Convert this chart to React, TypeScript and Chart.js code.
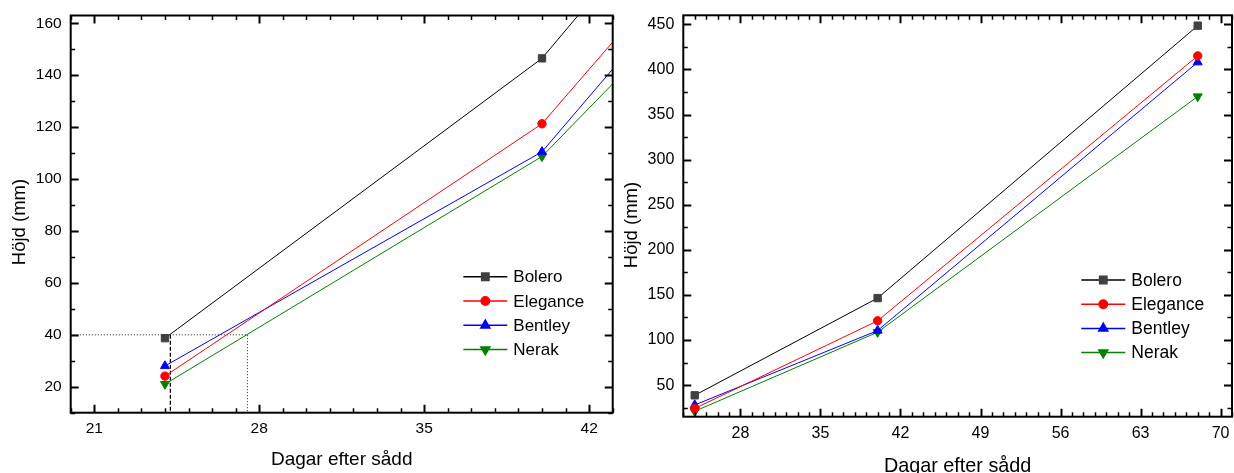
import React, { useEffect, useRef } from 'react';
import { Chart, registerables } from 'chart.js';
import { drawPoint } from 'chart.js/helpers';

Chart.register(...registerables);

// ---------- data ----------
const days = [24, 40, 68];
const seriesNames = ['Bolero', 'Elegance', 'Bentley', 'Nerak'];
const bolero = [38.7, 146.5, 448.5];
const elegance = [24.1, 121.3, 415];
const bentley = [28, 110.5, 408];
const nerak = [21, 108.7, 370];

const leftXTicks = [21, 28, 35, 42];
const leftYTicks = [20, 40, 60, 80, 100, 120, 140, 160];
const rightXTicks = [28, 35, 42, 49, 56, 63, 70];
const rightYTicks = [50, 100, 150, 200, 250, 300, 350, 400, 450];

// zoom-region guide drawn on the left panel
const zoomBoxX = [20, 20, 27.5, 27.5, 20];
const zoomBoxY = [10, 40, 40, 10, 10];
const guideX = [24.23, 24.23];
const guideY = [40, 10];

const xTitle = 'Dagar efter sådd';
const yTitle = 'Höjd (mm)';

// ---------- styles ----------
const FONT = '"Liberation Sans", Arial, sans-serif';
const lineColors = ['#000000', '#ff0000', '#0000ff', '#008000'];
const pointColors = ['#404040', '#ff0000', '#0000ff', '#008000'];
const pointStyles = ['rect', 'circle', 'triangle', 'triangle'];
const pointRotations = [0, 0, 0, 180];
const pointRadii = [5.2, 4.2, 5.2, 5.2];
const seriesValues = [bolero, elegance, bentley, nerak];

const framePlugin = {
  id: 'frame',
  afterDraw(chart: any) {
    const o = chart.options.plugins.frame;
    const { ctx, chartArea: a } = chart;
    const x = chart.scales.x;
    const y = chart.scales.y;
    ctx.save();
    // ticks (inward, all four sides)
    ctx.strokeStyle = '#000';
    const nx0 = Math.ceil(x.min / o.xMinor - 1e-9);
    for (let i = nx0; i * o.xMinor <= x.max + 1e-9; i++) {
      const v = i * o.xMinor;
      const major = o.xMajor.includes(v);
      const len = major ? 8 : 4.5;
      const px = Math.round(x.getPixelForValue(v)) + 0.5;
      ctx.lineWidth = major ? 2 : 1.5;
      ctx.beginPath();
      ctx.moveTo(px, a.bottom); ctx.lineTo(px, a.bottom - len);
      ctx.moveTo(px, a.top); ctx.lineTo(px, a.top + len);
      ctx.stroke();
    }
    const ny0 = Math.ceil(y.min / o.yMinor - 1e-9);
    for (let i = ny0; i * o.yMinor <= y.max + 1e-9; i++) {
      const v = i * o.yMinor;
      const major = o.yMajor.includes(v);
      const len = major ? 8 : 4.5;
      const py = Math.round(y.getPixelForValue(v)) + 0.5;
      ctx.lineWidth = major ? 2 : 1.5;
      ctx.beginPath();
      ctx.moveTo(a.left, py); ctx.lineTo(a.left + len, py);
      ctx.moveTo(a.right, py); ctx.lineTo(a.right - len, py);
      ctx.stroke();
    }
    // frame
    ctx.lineWidth = 2;
    ctx.strokeRect(a.left, a.top, a.right - a.left, a.bottom - a.top);

    // axis titles
    ctx.fillStyle = '#000';
    ctx.font = `${o.xTitleSize}px ${FONT}`;
    ctx.textAlign = 'center';
    ctx.textBaseline = 'alphabetic';
    ctx.fillText(xTitle, (a.left + a.right) / 2, o.xTitleBaseline);
    ctx.save();
    ctx.font = `${o.yTitleSize}px ${FONT}`;
    ctx.translate(o.yTitleX, o.yTitleY);
    ctx.rotate(-Math.PI / 2);
    ctx.textBaseline = 'middle';
    ctx.fillText(yTitle, 0, 0);
    ctx.restore();

    // legend
    const lx = a.left + o.legendX * (a.right - a.left);
    let ly = a.top + o.legendY * (a.bottom - a.top);
    ctx.font = `${o.legendSize}px ${FONT}`;
    ctx.textAlign = 'left';
    ctx.textBaseline = 'middle';
    chart.data.datasets.filter((d: any) => d.label).forEach((d: any) => {
      ctx.strokeStyle = d.borderColor;
      ctx.lineWidth = 1.5;
      ctx.beginPath();
      ctx.moveTo(lx, ly); ctx.lineTo(lx + 44, ly);
      ctx.stroke();
      ctx.fillStyle = d.pointBackgroundColor;
      ctx.strokeStyle = d.pointBorderColor;
      drawPoint(ctx, { pointStyle: d.pointStyle, rotation: d.pointRotation, radius: d.pointRadius, borderWidth: 1 }, lx + 22, ly);
      ctx.fillStyle = '#000';
      ctx.fillText(d.label, lx + 50, ly + 1);
      ly += o.legendStep;
    });
    ctx.restore();
  },
};

function seriesDatasets() {
  return seriesNames.map((name, i) => ({
    label: name,
    data: days.map((d, j) => ({ x: d, y: seriesValues[i][j] })),
    borderColor: lineColors[i],
    borderWidth: 1,
    pointBackgroundColor: pointColors[i],
    pointBorderColor: pointColors[i],
    pointBorderWidth: 1,
    pointStyle: pointStyles[i],
    pointRotation: pointRotations[i],
    pointRadius: pointRadii[i],
    tension: 0,
    order: i,
  }));
}

function makeConfig(p: any): any {
  const datasets: any[] = seriesDatasets();
  if (p.guides) {
    datasets.push({
      data: zoomBoxX.map((x, i) => ({ x, y: zoomBoxY[i] })),
      borderColor: '#222', borderWidth: 1, borderDash: [1, 2], pointRadius: 0, order: 20,
    });
    datasets.push({
      data: guideX.map((x, i) => ({ x, y: guideY[i] })),
      borderColor: '#000', borderWidth: 1.3, borderDash: [4, 2], pointRadius: 0, order: 21,
    });
  }
  return {
    type: 'line',
    data: { datasets },
    plugins: [framePlugin],
    options: {
      responsive: false,
      animation: false,
      layout: { autoPadding: false, padding: { top: p.padTop, right: p.padRight, left: 0, bottom: 0 } },
      plugins: { legend: { display: false }, tooltip: { enabled: false }, frame: p.frame },
      scales: {
        x: {
          type: 'linear', min: p.xMin, max: p.xMax,
          grid: { display: false, drawTicks: false }, border: { display: false },
          afterBuildTicks: (s: any) => { s.ticks = p.xTicks.map((v: number) => ({ value: v })); },
          afterFit: (s: any) => { s.height = p.xHeight; s.paddingLeft = 0; s.paddingRight = 0; },
          ticks: { color: '#000', padding: p.xPad, maxRotation: 0, autoSkip: false, font: { family: FONT, size: p.tickSize } },
        },
        y: {
          type: 'linear', min: p.yMin, max: p.yMax,
          grid: { display: false, drawTicks: false }, border: { display: false },
          afterBuildTicks: (s: any) => { s.ticks = p.yTicks.map((v: number) => ({ value: v })); },
          afterFit: (s: any) => { s.width = p.yWidth; s.paddingTop = 0; s.paddingBottom = 0; },
          ticks: { color: '#000', padding: 9, autoSkip: false, font: { family: FONT, size: p.tickSize } },
        },
      },
    },
  };
}

const leftParams = {
  guides: true, padTop: 15.5, padRight: 4.3,
  xMin: 20, xMax: 43, yMin: 10, yMax: 163,
  xTicks: leftXTicks, yTicks: leftYTicks,
  xHeight: 60.3, yWidth: 70.7, xPad: 7, tickSize: 15.5,
  frame: {
    xMinor: 1, yMinor: 10, xMajor: leftXTicks, yMajor: leftYTicks,
    xTitleSize: 19, xTitleBaseline: 464.5, yTitleSize: 18.5, yTitleX: 20, yTitleY: 222,
    legendX: 0.7244, legendY: 0.6576, legendStep: 24.3, legendSize: 17,
  },
};

const rightParams = {
  guides: false, padTop: 15.3, padRight: 2,
  xMin: 23, xMax: 71, yMin: 15, yMax: 460,
  xTicks: rightXTicks, yTicks: rightYTicks,
  xHeight: 56.3, yWidth: 66.3, xPad: 7, tickSize: 16,
  frame: {
    xMinor: 1, yMinor: 25, xMajor: rightXTicks, yMajor: rightYTicks,
    xTitleSize: 19.8, xTitleBaseline: 471.5, yTitleSize: 18.5, yTitleX: 15, yTitleY: 225,
    legendX: 0.7253, legendY: 0.6594, legendStep: 24.2, legendSize: 17.5,
  },
};

function Panel({ params }: { params: any }) {
  const ref = useRef<HTMLCanvasElement | null>(null);
  useEffect(() => {
    if (!ref.current) return;
    const chart = new Chart(ref.current, makeConfig(params));
    return () => chart.destroy();
  }, [params]);
  return <canvas ref={ref} width={617} height={473} style={{ display: 'block', width: 617, height: 473 }} />;
}

export default function App() {
  return (
    <div style={{ position: 'absolute', left: 0, top: 0, width: 1234, height: 473, display: 'flex', background: '#fff' }}>
      <Panel params={leftParams} />
      <Panel params={rightParams} />
    </div>
  );
}
